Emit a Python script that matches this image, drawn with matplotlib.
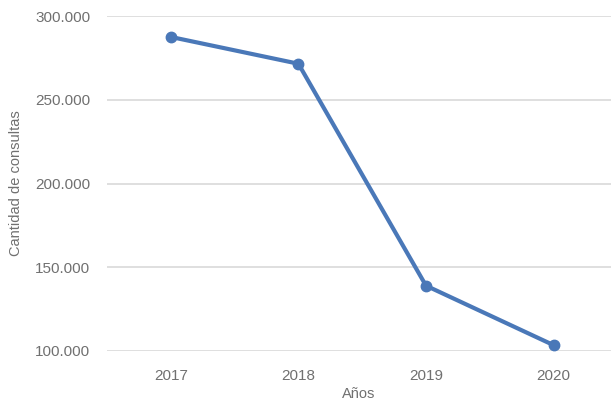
import numpy as np
import matplotlib.pyplot as plt
from matplotlib.ticker import FuncFormatter

years = ['2017', '2018', '2019', '2020']
consultas = [287500, 271500, 139000, 103500]
yticks = [100000, 150000, 200000, 250000, 300000]

plt.rcParams['font.family'] = ['Liberation Sans', 'DejaVu Sans']

fig = plt.figure(figsize=(6.11, 4.03), dpi=100)
ax = fig.add_axes([107 / 611, 1 - 351 / 403, 1 - 107 / 611, (351 - 16) / 403])

x = np.arange(len(years))
ax.plot(x, consultas, color='#4a78b8', lw=3, marker='o', ms=7.5, zorder=3)

ax.set_ylim(100000, 300000)
ax.set_xlim(-0.5, 3.45)
ax.set_yticks(yticks)
ax.set_xticks(x)
ax.set_xticklabels(years)
ax.yaxis.set_major_formatter(FuncFormatter(lambda v, p: f'{int(v):,}'.replace(',', '.')))

ax.grid(axis='y', color='#d9d9d9', lw=1.2)
ax.set_axisbelow(True)
for s in ax.spines.values():
    s.set_visible(False)
ax.tick_params(length=0, colors='#707070', labelsize=11)
ax.tick_params(axis='x', pad=13)
ax.tick_params(axis='y', pad=12)

ax.set_xlabel('Años', color='#707070', fontsize=10.5, labelpad=3)
ax.set_ylabel('Cantidad de consultas', color='#707070', fontsize=10.5, labelpad=9)

fig.savefig('out.png', dpi=100)
